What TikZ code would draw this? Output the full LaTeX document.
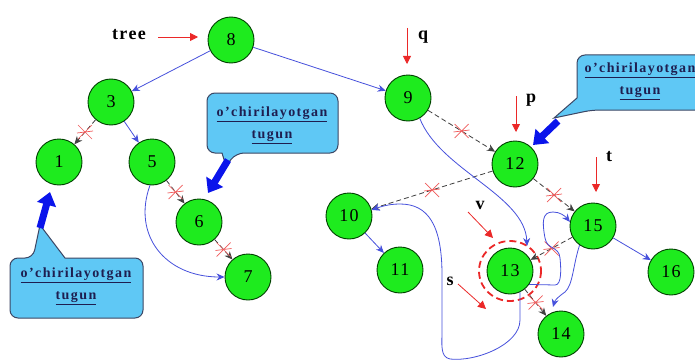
\documentclass[tikz,border=0pt]{standalone}
\usepackage{fontspec}
\setmainfont{Liberation Serif}
\usetikzlibrary{arrows.meta}
\definecolor{ngreen}{RGB}{30,235,30}
\definecolor{eblue}{RGB}{70,80,220}
\definecolor{cfill}{RGB}{95,200,245}
\definecolor{cdraw}{RGB}{60,70,100}
\definecolor{ctxtcol}{RGB}{30,30,80}
\definecolor{mred}{RGB}{235,40,40}
\definecolor{xred}{RGB}{240,90,90}
\definecolor{bblue}{RGB}{10,20,235}
\begin{document}
\begin{tikzpicture}[x=1pt,y=-1pt,
 tn/.style={circle,draw=black!75!green,line width=0.9pt,fill=ngreen,minimum size=46pt,inner sep=0pt,
   font=\fontsize{18}{18}\selectfont\addfontfeature{LetterSpace=8}},
 bedge/.style={draw=eblue,line width=0.8pt,-{Stealth[length=8pt,width=7pt]}},
 dedge/.style={draw=black!75,line width=0.8pt,dash pattern=on 5pt off 3pt,-{Stealth[length=8pt,width=7pt]}},
 redarr/.style={draw=mred,line width=0.8pt,-{Triangle[length=8pt,width=8pt]}},
 lbl/.style={font=\fontsize{18}{18}\selectfont\bfseries\addfontfeature{LetterSpace=8},inner sep=0pt},
 callout/.style={fill=cfill,draw=cdraw,line width=1pt},
 calltext/.style={font=\fontsize{14}{22}\selectfont\bfseries\addfontfeature{LetterSpace=10},text=ctxtcol,align=center,inner sep=0pt},
 bigarr/.style={draw=bblue,line width=7pt,-{Triangle[length=13pt,width=19pt]}},
 xmark/.pic={\draw[xred,line width=0.7pt,solid,-] (-7,-7)--(7,7) (-7,7)--(7,-7) (-8,1)--(8,-1);}
]
\useasboundingbox (0,0) rectangle (695,361);
\fill[white] (0,0) rectangle (695,361);
\clip (0,0) rectangle (695,361);

% callouts
\path[callout] (272,93) [rounded corners=8] -- (338,93) -- (338,153) -- (236,153) [sharp corners] -- (226,166) -- (222,153) [rounded corners=8] -- (207,153) -- (207,93) -- cycle;
\node[calltext] (co1) at (272,125) {\underline{o’chirilayotgan}\\\underline{tugun}};
\path[callout] (76,318) [rounded corners=8] -- (10,318) -- (10,258) -- (33,258) [sharp corners] -- (40,225) -- (65,258) [rounded corners=8] -- (143,258) -- (143,318) -- cycle;
\node[calltext] (co2) at (76,286) {\underline{o’chirilayotgan}\\\underline{tugun}};
\path[callout] (640,55) [rounded corners=8] -- (712,55) -- (712,110) -- (592,110) [sharp corners] -- (554,118) -- (577,98) [rounded corners=8] -- (577,55) -- cycle;
\node[calltext] (co3) at (640,81) {\underline{o’chirilayotgan}\\\underline{tugun}};

% nodes
\node[tn] (n8) at (231,40) {8};
\node[tn] (n3) at (111,102) {3};
\node[tn] (n1) at (59,162) {1};
\node[tn] (n5) at (152,162) {5};
\node[tn] (n6) at (199,222) {6};
\node[tn] (n7) at (248,277) {7};
\node[tn] (n9) at (408,98) {9};
\node[tn] (n12) at (515,164) {12};
\node[tn] (n10) at (349,216) {10};
\node[tn] (n11) at (400,270) {11};
\node[tn] (n13) at (510,271) {13};
\node[tn] (n15) at (593,226) {15};
\node[tn] (n16) at (671,272) {16};
\node[tn] (n14) at (561,334) {14};

% red dashed ring
\draw[mred,line width=1.8pt,dash pattern=on 7pt off 4pt] (n13.center) ellipse [x radius=31,y radius=30];

% tree edges
\draw[bedge] (n8) -- (n3);
\draw[bedge] (n8) -- (n9);
\draw[bedge] (n3) -- (n5);
\draw[dedge] (n3) -- pic[pos=0.5]{xmark} (n1);
\draw[dedge] (n5) -- pic[pos=0.5]{xmark} (n6);
\draw[dedge] (n6) -- pic[pos=0.5]{xmark} (n7);
\draw[bedge] (n5.265) .. controls (132,235) and (165,277) .. (n7.west);
\draw[dedge] (n9) -- pic[pos=0.5]{xmark} (n12);
\draw[dedge] (n12) -- pic[pos=0.5]{xmark} (n10);
\draw[dedge] (n12) -- pic[pos=0.5]{xmark} (n15);
\draw[dedge] (n15) -- pic[pos=0.5]{xmark} (n13);
\draw[dedge] (n13) -- pic[pos=0.5]{xmark} (n14);
\draw[bedge] (n10) -- (n11);
\draw[bedge] (n15) -- (n16);

% blue re-link curves
\coordinate (c13top) at (527,246);
\draw[bedge] (n9.300) .. controls (440,170) and (525,195) .. (c13top);
\draw[bedge] (n13.-65) -- (520,320) .. controls (520,345) and (475,362) .. (450,359) .. controls (440,357) and (442,345) .. (442,330) -- (442,275) .. controls (442,225) and (428,204) .. (400,204) .. controls (388,204) and (380,207) .. (n10.15);
\draw[bedge] (n13.-35) -- (555,285) .. controls (562,285) and (561,268) .. (560,258) .. controls (559,246) and (547,250) .. (545,238) .. controls (542,222) and (542,212) .. (553,212) .. controls (560,212) and (565,216) .. (n15.170);
\coordinate (c14) at (553,307);
\draw[bedge] (n15.235) .. controls (573,265) and (573,285) .. (565,292) .. controls (558,297) and (555,300) .. (c14);

% labels and red pointers
\node[lbl] (tree) at (129,35) {tree};
\coordinate (ta) at (158,37); \coordinate (tb) at (198,37);
\draw[redarr] (ta) -- (tb);
\node[lbl] (q) at (423,37) {q};
\coordinate (qa) at (407,28); \coordinate (qb) at (407,64);
\draw[redarr] (qa) -- (qb);
\node[lbl] (p) at (531,100) {p};
\coordinate (pa) at (516,96); \coordinate (pb) at (516,132);
\draw[redarr] (pa) -- (pb);
\node[lbl] (t) at (609,157) {t};
\coordinate (tta) at (596,157); \coordinate (ttb) at (596,192);
\draw[redarr] (tta) -- (ttb);
\node[lbl] (v) at (480,205) {v};
\coordinate (va) at (468,212); \coordinate (vb) at (493,238);
\draw[redarr] (va) -- (vb);
\node[lbl] (s) at (450,281) {s};
\coordinate (sa) at (458,284); \coordinate (sb) at (486,309);
\draw[redarr] (sa) -- (sb);

% big blue pointers
\coordinate (b1a) at (228,160); \coordinate (b1b) at (208,193);
\draw[bigarr] (b1a) -- (b1b);
\coordinate (b2a) at (40,228); \coordinate (b2b) at (50,192);
\draw[bigarr] (b2a) -- (b2b);
\coordinate (b3a) at (558,121); \coordinate (b3b) at (533,145);
\draw[bigarr] (b3a) -- (b3b);
\end{tikzpicture}
\end{document}
